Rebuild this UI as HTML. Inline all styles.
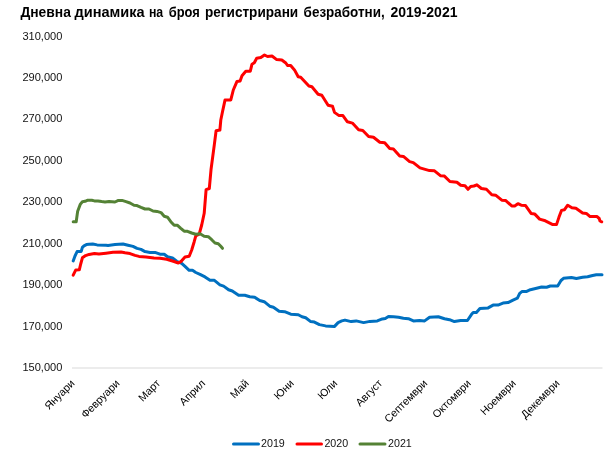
<!DOCTYPE html>
<html lang="bg">
<head>
<meta charset="utf-8">
<title>Дневна динамика на броя регистрирани безработни, 2019-2021</title>
<style>
html,body{margin:0;padding:0;background:#fff;}
body{width:607px;height:450px;overflow:hidden;}
svg{display:block;}
text{font-family:"Liberation Sans",sans-serif;fill:#000;}
.t{font-weight:bold;font-size:14.3px;}
.y{font-size:10.9px;fill:#111;}
.x{font-size:10.8px;fill:#000;}
.l{font-size:10.9px;fill:#111;}
.s{fill:none;stroke-width:3;stroke-linejoin:round;stroke-linecap:round;}
</style>
</head>
<body>
<svg width="607" height="450" viewBox="0 0 607 450">
<rect width="607" height="450" fill="#fff"/>
<text class="t" y="17"><tspan x="20.4" textLength="50.5" lengthAdjust="spacingAndGlyphs">Дневна</tspan> <tspan x="74.5" textLength="70.2" lengthAdjust="spacingAndGlyphs">динамика</tspan> <tspan x="148.9" textLength="14.3" lengthAdjust="spacingAndGlyphs">на</tspan> <tspan x="168.7" textLength="31.1" lengthAdjust="spacingAndGlyphs">броя</tspan> <tspan x="205.0" textLength="93.2" lengthAdjust="spacingAndGlyphs">регистрирани</tspan> <tspan x="303.6" textLength="81.1" lengthAdjust="spacingAndGlyphs">безработни,</tspan> <tspan x="390.5" textLength="67.0" lengthAdjust="spacingAndGlyphs">2019-2021</tspan></text>
<text class="y" x="22.4" y="39.5" textLength="40" lengthAdjust="spacingAndGlyphs">310,000</text>
<text class="y" x="22.4" y="80.9" textLength="40" lengthAdjust="spacingAndGlyphs">290,000</text>
<text class="y" x="22.4" y="122.4" textLength="40" lengthAdjust="spacingAndGlyphs">270,000</text>
<text class="y" x="22.4" y="163.8" textLength="40" lengthAdjust="spacingAndGlyphs">250,000</text>
<text class="y" x="22.4" y="205.3" textLength="40" lengthAdjust="spacingAndGlyphs">230,000</text>
<text class="y" x="22.4" y="246.7" textLength="40" lengthAdjust="spacingAndGlyphs">210,000</text>
<text class="y" x="22.4" y="288.1" textLength="40" lengthAdjust="spacingAndGlyphs">190,000</text>
<text class="y" x="22.4" y="329.6" textLength="40" lengthAdjust="spacingAndGlyphs">170,000</text>
<text class="y" x="22.4" y="371.0" textLength="40" lengthAdjust="spacingAndGlyphs">150,000</text>
<line x1="72" y1="368" x2="602.5" y2="368" stroke="#d9d9d9" stroke-width="1"/>
<text class="x" text-anchor="end" transform="translate(75.2,384) rotate(-45)">Януари</text>
<text class="x" text-anchor="end" transform="translate(120.2,384) rotate(-45)">Февруари</text>
<text class="x" text-anchor="end" transform="translate(160.9,384) rotate(-45)">Март</text>
<text class="x" text-anchor="end" transform="translate(205.9,384) rotate(-45)">Април</text>
<text class="x" text-anchor="end" transform="translate(249.4,384) rotate(-45)">Май</text>
<text class="x" text-anchor="end" transform="translate(294.5,384) rotate(-45)">Юни</text>
<text class="x" text-anchor="end" transform="translate(338.0,384) rotate(-45)">Юли</text>
<text class="x" text-anchor="end" transform="translate(383.0,384) rotate(-45)">Август</text>
<text class="x" text-anchor="end" transform="translate(428.0,384) rotate(-45)">Септември</text>
<text class="x" text-anchor="end" transform="translate(471.6,384) rotate(-45)">Октомври</text>
<text class="x" text-anchor="end" transform="translate(516.6,384) rotate(-45)">Ноември</text>
<text class="x" text-anchor="end" transform="translate(560.2,384) rotate(-45)">Декември</text>
<polyline class="s" stroke="#0070c0" points="73.2,260.9 75.0,256.0 77.1,251.6 81.2,251.4 82.4,247.3 84.0,245.8 86.4,244.6 89.0,244.2 92.7,244.0 97.1,244.9 106.0,245.2 108.0,245.4 115.0,244.6 123.0,244.0 128.0,245.2 133.0,246.4 137.0,248.4 141.0,249.4 145.0,251.6 150.0,252.4 155.0,252.4 160.0,254.2 164.2,254.2 167.5,256.7 172.5,258.0 176.7,261.3 181.7,263.3 185.0,266.3 189.2,270.3 192.5,270.3 195.8,272.5 200.0,274.4 205.0,276.9 210.0,280.3 214.4,280.3 219.9,284.8 223.6,286.1 228.6,289.8 232.3,291.0 238.6,295.3 244.8,295.3 249.8,296.8 254.7,297.3 259.7,300.5 264.2,301.7 269.7,306.2 273.4,307.2 279.1,311.2 284.6,311.7 290.8,314.2 298.3,314.7 302.0,316.7 305.7,317.7 310.7,321.6 314.4,322.1 319.4,324.6 325.6,325.9 334.3,326.6 338.1,322.6 341.8,320.9 345.0,320.1 351.2,321.6 356.2,320.9 363.6,322.6 369.9,321.4 377.3,320.9 382.3,318.9 385.3,318.4 388.5,316.4 393.5,316.7 398.5,317.2 403.4,318.2 408.4,318.7 413.4,320.9 419.6,320.4 424.6,320.9 429.6,317.2 438.3,316.7 444.5,318.7 449.5,319.7 454.4,321.6 460.6,320.6 467.4,320.5 471.4,314.6 473.2,312.6 476.4,312.6 479.9,308.6 488.1,307.9 493.1,305.1 498.0,305.1 503.0,303.1 508.0,302.6 513.0,300.1 517.4,298.2 519.7,293.4 522.2,291.4 526.7,291.4 530.4,289.7 536.6,288.2 541.6,287.0 546.6,287.2 550.3,286.0 557.7,286.0 561.0,280.5 563.5,278.3 571.4,277.5 576.4,278.5 582.6,277.3 587.6,276.8 592.6,275.5 596.3,274.8 602.0,274.8"/>
<polyline class="s" stroke="#ff0000" points="73.2,275.1 75.8,269.9 79.3,269.8 80.7,264.0 82.4,257.8 85.6,255.6 89.1,254.4 94.4,253.5 98.9,254.0 106.0,253.2 113.0,252.3 121.0,252.0 125.0,252.8 130.0,253.6 135.0,255.4 139.0,256.4 146.0,257.0 154.0,258.0 160.0,258.3 166.7,259.2 173.3,261.3 178.3,263.0 180.8,261.7 185.0,257.0 189.2,256.2 191.7,250.0 194.2,241.7 195.8,235.8 199.2,234.2 201.7,225.0 204.2,213.3 206.1,189.7 209.3,188.5 211.0,169.8 214.3,144.9 216.1,130.8 219.9,130.0 220.8,120.0 222.5,111.7 225.0,100.1 230.8,99.9 233.3,90.0 237.0,81.4 240.1,81.0 242.0,75.8 245.8,71.3 250.3,71.2 252.0,64.2 254.3,62.8 256.7,58.2 260.8,57.6 264.5,55.0 267.5,56.5 272.0,56.0 276.7,59.6 281.8,60.0 285.8,63.0 287.5,65.4 290.7,65.6 294.5,69.9 298.2,76.8 300.7,77.3 308.9,86.0 311.9,86.8 318.1,94.2 321.8,95.2 328.1,105.2 332.5,106.2 334.5,112.4 338.7,115.4 342.9,115.6 347.4,121.8 352.4,123.1 358.6,129.8 362.8,130.5 368.6,136.5 373.5,137.3 379.8,142.2 384.7,142.7 389.7,148.5 393.4,149.0 399.7,155.9 403.4,156.4 409.6,161.6 413.3,162.6 420.0,167.9 429.5,170.6 434.5,170.8 440.7,175.8 444.4,176.1 449.9,181.5 456.9,182.3 460.7,185.3 465.0,185.8 468.0,189.3 470.7,186.5 473.9,186.0 476.9,184.8 481.4,188.5 486.4,189.3 491.8,194.7 495.6,195.2 501.8,200.2 505.5,200.4 511.7,205.9 514.7,205.9 517.9,203.7 521.2,205.2 525.4,205.4 531.1,213.4 534.6,213.9 539.6,219.1 545.3,220.8 552.8,224.6 556.5,224.6 559.0,217.1 561.5,210.4 564.5,209.7 567.7,205.2 571.9,207.7 575.9,208.2 582.6,212.9 586.3,213.4 590.1,216.6 596.8,216.4 599.2,218.5 600.0,221.0 601.7,221.8"/>
<polyline class="s" stroke="#548235" points="73.2,221.7 76.2,221.7 77.6,211.6 80.2,204.4 82.4,201.7 85.1,201.3 87.3,200.3 91.8,200.3 94.4,200.9 98.0,201.0 101.6,201.6 105.0,202.0 109.0,201.4 115.0,202.0 118.4,200.4 122.0,200.4 126.0,201.6 130.0,203.0 134.0,205.2 137.0,205.6 141.0,207.4 145.0,209.0 149.0,209.0 153.0,211.0 157.0,211.4 161.0,212.6 164.2,216.3 167.5,217.2 170.8,221.7 174.2,225.3 177.5,225.3 180.8,228.3 184.2,231.2 187.5,231.3 191.7,233.0 195.8,234.2 200.0,233.8 204.2,236.3 208.3,236.7 211.7,239.7 215.0,243.0 218.3,243.7 220.8,246.3 222.5,248.3"/>
<line class="s" x1="233.5" y1="444" x2="258.5" y2="444" stroke="#0070c0"/>
<text class="l" x="261" y="447" textLength="23.8" lengthAdjust="spacingAndGlyphs">2019</text>
<line class="s" x1="297" y1="444" x2="321.5" y2="444" stroke="#ff0000"/>
<text class="l" x="324.4" y="447" textLength="23.8" lengthAdjust="spacingAndGlyphs">2020</text>
<line class="s" x1="360" y1="444" x2="385" y2="444" stroke="#548235"/>
<text class="l" x="388" y="447" textLength="23.8" lengthAdjust="spacingAndGlyphs">2021</text>
</svg>
</body>
</html>
